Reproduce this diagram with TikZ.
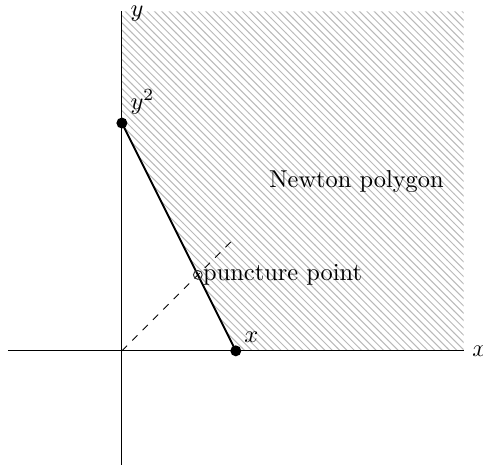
\documentclass[tikz,border=0pt]{standalone}
\usetikzlibrary{patterns}
\begin{document}
\begin{tikzpicture}[x=1.64cm,y=1.64cm,
  axis/.style={thin,black},
  dot/.style={circle,fill=black,inner sep=0pt,minimum size=4.5pt},
  hole/.style={circle,draw=black!80,inner sep=0pt,minimum size=3.6pt,thin}]
\useasboundingbox (-1.07,-1.0) rectangle (3.17,3.08);
\fill[pattern=north west lines,pattern color=gray!55] (0,2) -- (1,0) -- (3,0) -- (3,2.98) -- (0,2.98) -- cycle;
\coordinate (xl) at (-1,0);
\coordinate (xr) at (3,0);
\coordinate (yb) at (0,-1);
\coordinate (yt) at (0,2.98);
\coordinate (o) at (0,0);
\coordinate (d) at (1,1);
\draw[axis] (xl) -- (xr) node[right] {$x$};
\draw[axis] (yb) -- (yt) node[right,yshift=-1pt] {$y$};
\draw[dashed] (o) -- (d);
\node[dot] (p1) at (0,2) {};
\node[dot] (p2) at (1,0) {};
\draw[thick] (p1.center) -- (p2.center);
\node[above right] at (p1.center) {$y^2$};
\node[above right] at (p2.center) {$x$};
\node[hole] (pp) at (2/3,2/3) {};
\node[anchor=west,inner sep=0pt] (ppl) at (pp.east) {puncture point};
\node (np) at (2.06,1.49) {Newton polygon};
\end{tikzpicture}
\end{document}
